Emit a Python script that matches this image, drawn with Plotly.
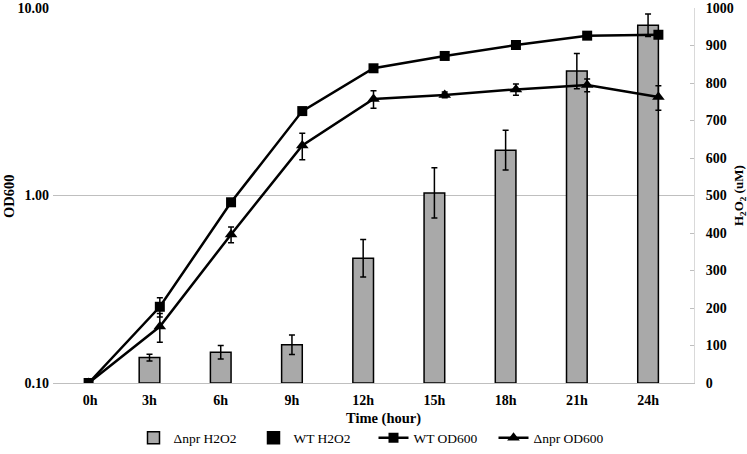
import plotly.graph_objects as go

categories = ["0h", "3h", "6h", "9h", "12h", "15h", "18h", "21h", "24h"]

npr_h2o2 = [None, 68, 82, 102, 333, 507, 621, 832, 954]
npr_h2o2_err = [0, 9, 18, 26, 50, 67, 53, 47, 30]
wt_h2o2 = [None] * 9

wt_od = [0.10, 0.255, 0.92, 2.82, 4.77, 5.55, 6.35, 7.12, 7.20]
wt_od_err = [0, 0.03, 0, 0, 0, 0, 0, 0, 0.3]

npr_od = [0.10, 0.20, 0.62, 1.85, 3.27, 3.44, 3.68, 3.88, 3.35]
npr_od_err = [0, 0.035, 0.06, 0.3, 0.35, 0.12, 0.25, 0.3, 0.5]

idx = list(range(len(categories)))
bar_w = 0.29
tickpos = [i - bar_w / 2 if i > 0 else 0.02 for i in idx]

serif = "Liberation Serif"
grid = "#bfbfbf"

W, H = 747, 454
ML, MR, MT, MB = 53, 53, 8, 71
plot_w = W - ML - MR
plot_h = H - MT - MB


def px_x(x):
    return (x - ML) / plot_w


def px_y(y):
    return (H - MB - y) / plot_h


fig = go.Figure()

fig.add_trace(go.Bar(
    x=idx, y=npr_h2o2, name="Δnpr H2O2", yaxis="y",
    width=bar_w, offset=-bar_w,
    marker=dict(color="#a9a9a9", line=dict(color="black", width=1.5)),
    error_y=dict(type="data", array=npr_h2o2_err, color="black", thickness=1.5, width=3),
))
fig.add_trace(go.Bar(
    x=idx, y=wt_h2o2, name="WT H2O2", yaxis="y",
    width=bar_w, offset=0,
    marker=dict(color="black", line=dict(color="black", width=1.5)),
))
fig.add_trace(go.Scatter(
    x=idx, y=wt_od, name="WT OD600", yaxis="y2", mode="lines+markers",
    line=dict(color="black", width=2.5),
    marker=dict(symbol="square", size=10, color="black"),
    error_y=dict(type="data", array=wt_od_err, color="black", thickness=1.5, width=3),
))
fig.add_trace(go.Scatter(
    x=idx, y=npr_od, name="Δnpr OD600", yaxis="y2", mode="lines+markers",
    line=dict(color="black", width=2.5),
    marker=dict(symbol="triangle-up", size=11, color="black"),
    error_y=dict(type="data", array=npr_od_err, color="black", thickness=1.5, width=3),
))

tickf = dict(family=serif, size=14, weight="bold", color="black")
titlef = dict(family=serif, size=14.5, weight="bold", color="black")

fig.update_layout(
    width=W, height=H,
    margin=dict(l=ML, r=MR, t=MT, b=MB, autoexpand=False),
    paper_bgcolor="white", plot_bgcolor="white",
    barmode="overlay",
    showlegend=True,
    font=dict(family=serif, color="black", size=14),
    xaxis=dict(
        range=[-0.5, 8.5], tickmode="array", tickvals=tickpos, ticktext=categories,
        showgrid=False, zeroline=False, showline=True, linecolor=grid, linewidth=1,
        ticks="", tickfont=tickf, automargin=False, ticklabelstandoff=4,
    ),
    yaxis=dict(
        side="right", range=[0, 1000], dtick=100, showgrid=False, zeroline=False,
        showline=True, linecolor="#d9d9d9", linewidth=1,
        ticks="inside", ticklen=4, tickcolor="#bfbfbf",
        tickfont=tickf, automargin=False, ticklabelstandoff=8,
    ),
    yaxis2=dict(
        type="log", range=[-1, 1], overlaying="y", side="left",
        tickvals=[0.1, 1, 10], ticktext=["0.10", "1.00", "10.00"],
        showgrid=True, gridcolor=grid, gridwidth=1, zeroline=False, showline=False,
        ticks="", ticklabelstandoff=3, tickfont=tickf, automargin=False,
    ),
    legend=dict(
        orientation="h", x=0.5, xanchor="center", y=px_y(438), yanchor="middle",
        font=dict(family=serif, size=13.5), entrywidth=75, itemwidth=30,
        bgcolor="rgba(0,0,0,0)",
    ),
    annotations=[
        dict(text="Time (hour)", x=px_x(383), y=px_y(418), xref="paper", yref="paper",
             xanchor="center", yanchor="middle", showarrow=False, font=titlef),
        dict(text="OD600", x=px_x(9), y=px_y(196), xref="paper", yref="paper",
             xanchor="center", yanchor="middle", textangle=-90, showarrow=False, font=titlef),
        dict(text="H<sub>2</sub>O<sub>2</sub> (uM)", x=px_x(739), y=px_y(196),
             xref="paper", yref="paper", xanchor="center", yanchor="middle",
             textangle=-90, showarrow=False, font=dict(family=serif, size=13, weight="bold")),
    ],
)

fig.write_html("out.html", config={"displayModeBar": False},
               post_script="document.body.style.margin='0';")
